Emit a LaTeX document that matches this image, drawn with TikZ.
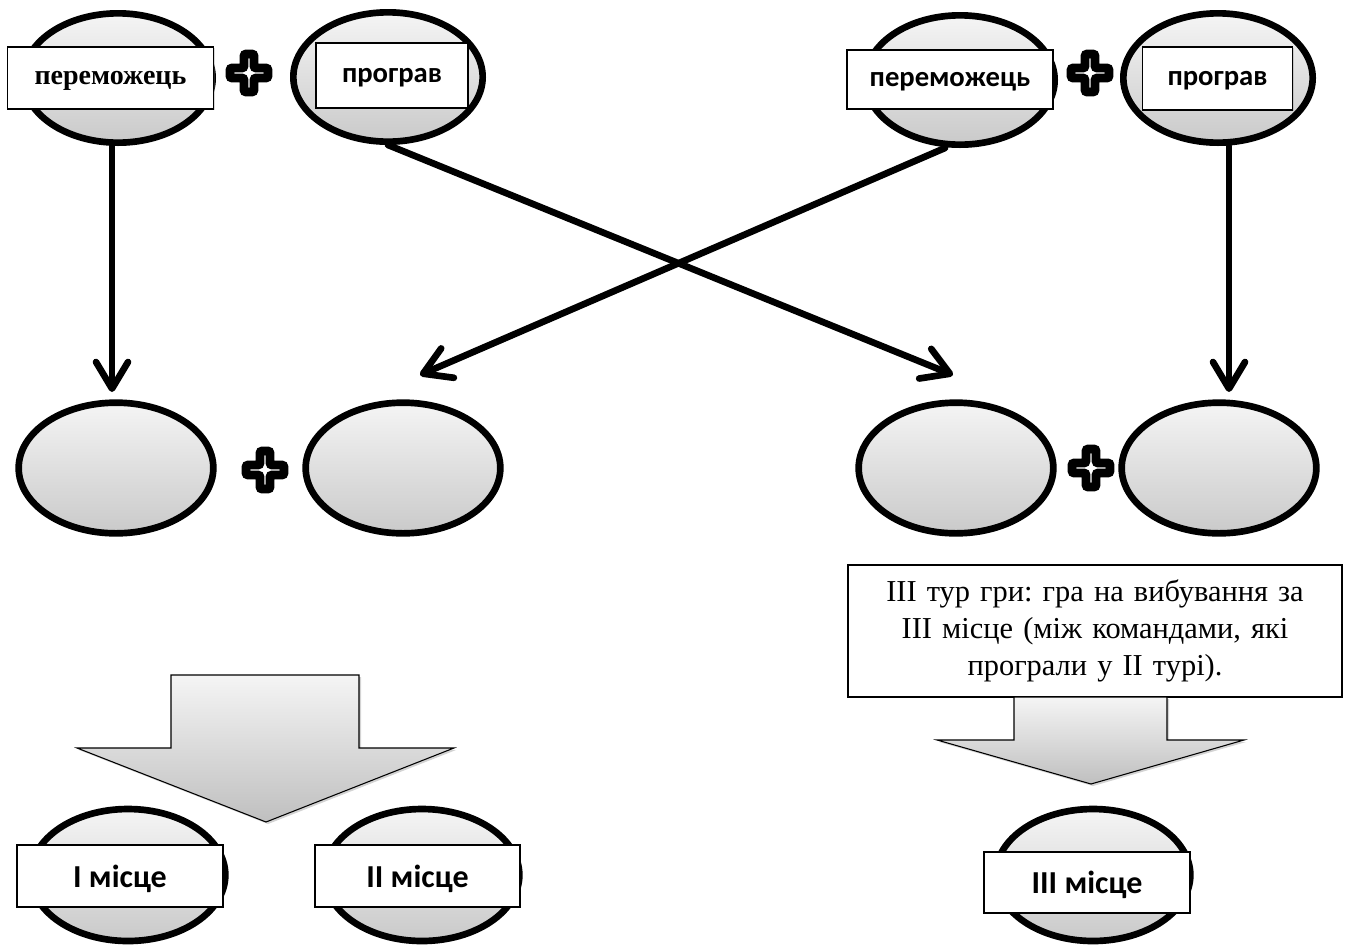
\documentclass[tikz,border=0pt]{standalone}
\usepackage{fontspec}
\setmainfont{Liberation Serif}
\newfontfamily\calib{Carlito}
\usetikzlibrary{shapes.geometric,shadows,arrows.meta,calc}
\frenchspacing
\begin{document}
\begin{tikzpicture}[x=0.75pt,y=-0.75pt,
  ell/.style={ellipse, draw, line width=5pt, top color=gray!8, bottom color=gray!42,
    minimum width=142pt, minimum height=97pt, inner sep=0pt,
    drop shadow={shadow xshift=1.5pt, shadow yshift=-1.5pt, opacity=0.35}},
  bell/.style={ell, minimum width=146pt, minimum height=99pt},
  lbl/.style={rectangle, draw, fill=white, line width=0.8pt, inner sep=0pt,
    drop shadow={shadow xshift=1pt, shadow yshift=-1pt, opacity=0.3}},
  lsans/.style={font=\calib\bfseries\fontsize{21.5}{25}\selectfont, text depth=0pt},
  lbig/.style={font=\calib\bfseries\fontsize{24}{28}\selectfont, text depth=0pt},
  lserif/.style={font=\bfseries\fontsize{21}{25}\selectfont, text depth=0pt},
  conn/.style={line width=5pt, line cap=round,
    -{Straight Barb[length=20pt,width=24pt,round]},
    preaction={draw=gray!55, transform canvas={shift={(1.5pt,-1.5pt)}}}},
  blockarrow/.style={draw, line width=0.8pt, top color=gray!8, bottom color=gray!50,
    drop shadow={shadow xshift=1.5pt, shadow yshift=-1.5pt, opacity=0.35}},
  plusmark/.pic={
    \draw[line width=6.5pt, rounded corners=1.5pt, fill=white,
      drop shadow={shadow xshift=1pt, shadow yshift=-1pt, opacity=0.4}]
      (-5,-19) -- (5,-19) -- (5,-5) -- (19,-5) -- (19,5) -- (5,5) -- (5,19)
      -- (-5,19) -- (-5,5) -- (-19,5) -- (-19,-5) -- (-5,-5) -- cycle;
  }
]
\useasboundingbox (0,0) rectangle (1345,947);

% top row
\node[ell] (e1) at (118,78) {};
\node[ell] (e2) at (388,77) {};
\node[ell] (e3) at (960,80) {};
\node[ell] (e4) at (1218,78) {};
\node[lbl, lserif, minimum width=154pt, minimum height=46.5pt] (b1) at (110.5,78) {переможець};
\node[lbl, lsans, minimum width=114pt, minimum height=48.75pt] (b2) at (392,75.5) {програв};
\node[lbl, lsans, minimum width=154.5pt, minimum height=44.25pt] (b3) at (950,79.5) {переможець};
\node[lbl, lsans, minimum width=113pt, minimum height=47.25pt] (b4) at (1217.5,78.5) {програв};
\pic (p1) at (249,73) {plusmark};
\pic (p2) at (1090,73) {plusmark};

% middle row
\node[ell, minimum width=146pt, minimum height=98pt] (e5) at (116,468) {};
\node[ell, minimum width=146pt, minimum height=98pt] (e6) at (403,468) {};
\node[ell, minimum width=146pt, minimum height=98pt] (e7) at (956,468) {};
\node[ell, minimum width=146pt, minimum height=98pt] (e8) at (1219,468) {};
\pic (p3) at (265,470) {plusmark};
\pic (p4) at (1091,468) {plusmark};

% connectors
\coordinate (t1) at (112,392);
\coordinate (t2) at (953,375);
\coordinate (t3) at (420,375);
\coordinate (t4) at (1229,392);
\draw[conn] ($(e1.south)+(-6,0)$) -- (t1);
\draw[conn] (e2.south) -- (t2);
\draw[conn] ($(e3.south)+(-15,0)$) -- (t3);
\draw[conn] ($(e4.south)+(11,0)$) -- (t4);

% description box
\node[lbl, font=\fontsize{22.8}{28}\selectfont, align=center,
  minimum width=370.5pt, minimum height=99pt, text width=365pt] (desc) at (1095,631)
  {III тур гри: гра на вибування за\\III місце (між командами, які\\програли у II турі).};

% block arrows
\draw[blockarrow] (171,675) -- (359,675) -- (359,748) -- (454,748) -- (266,822)
  -- (77,748) -- (171,748) -- cycle;
\draw[blockarrow] (1014,697) -- (1167,697) -- (1167,740) -- (1244,740) -- (1091,784)
  -- (937,740) -- (1014,740) -- cycle;

% bottom row
\node[bell] (e9) at (128,875) {};
\node[bell] (e10) at (422,875) {};
\node[bell] (e11) at (1093,875) {};
\node[lbl, lbig, minimum width=154.5pt, minimum height=46.5pt] (b9) at (120,876) {I місце};
\node[lbl, lbig, minimum width=153.75pt, minimum height=46.5pt] (b10) at (417.5,876) {II місце};
\node[lbl, lbig, minimum width=154.5pt, minimum height=45.75pt] (b11) at (1087,882.5) {III місце};
\end{tikzpicture}
\end{document}
